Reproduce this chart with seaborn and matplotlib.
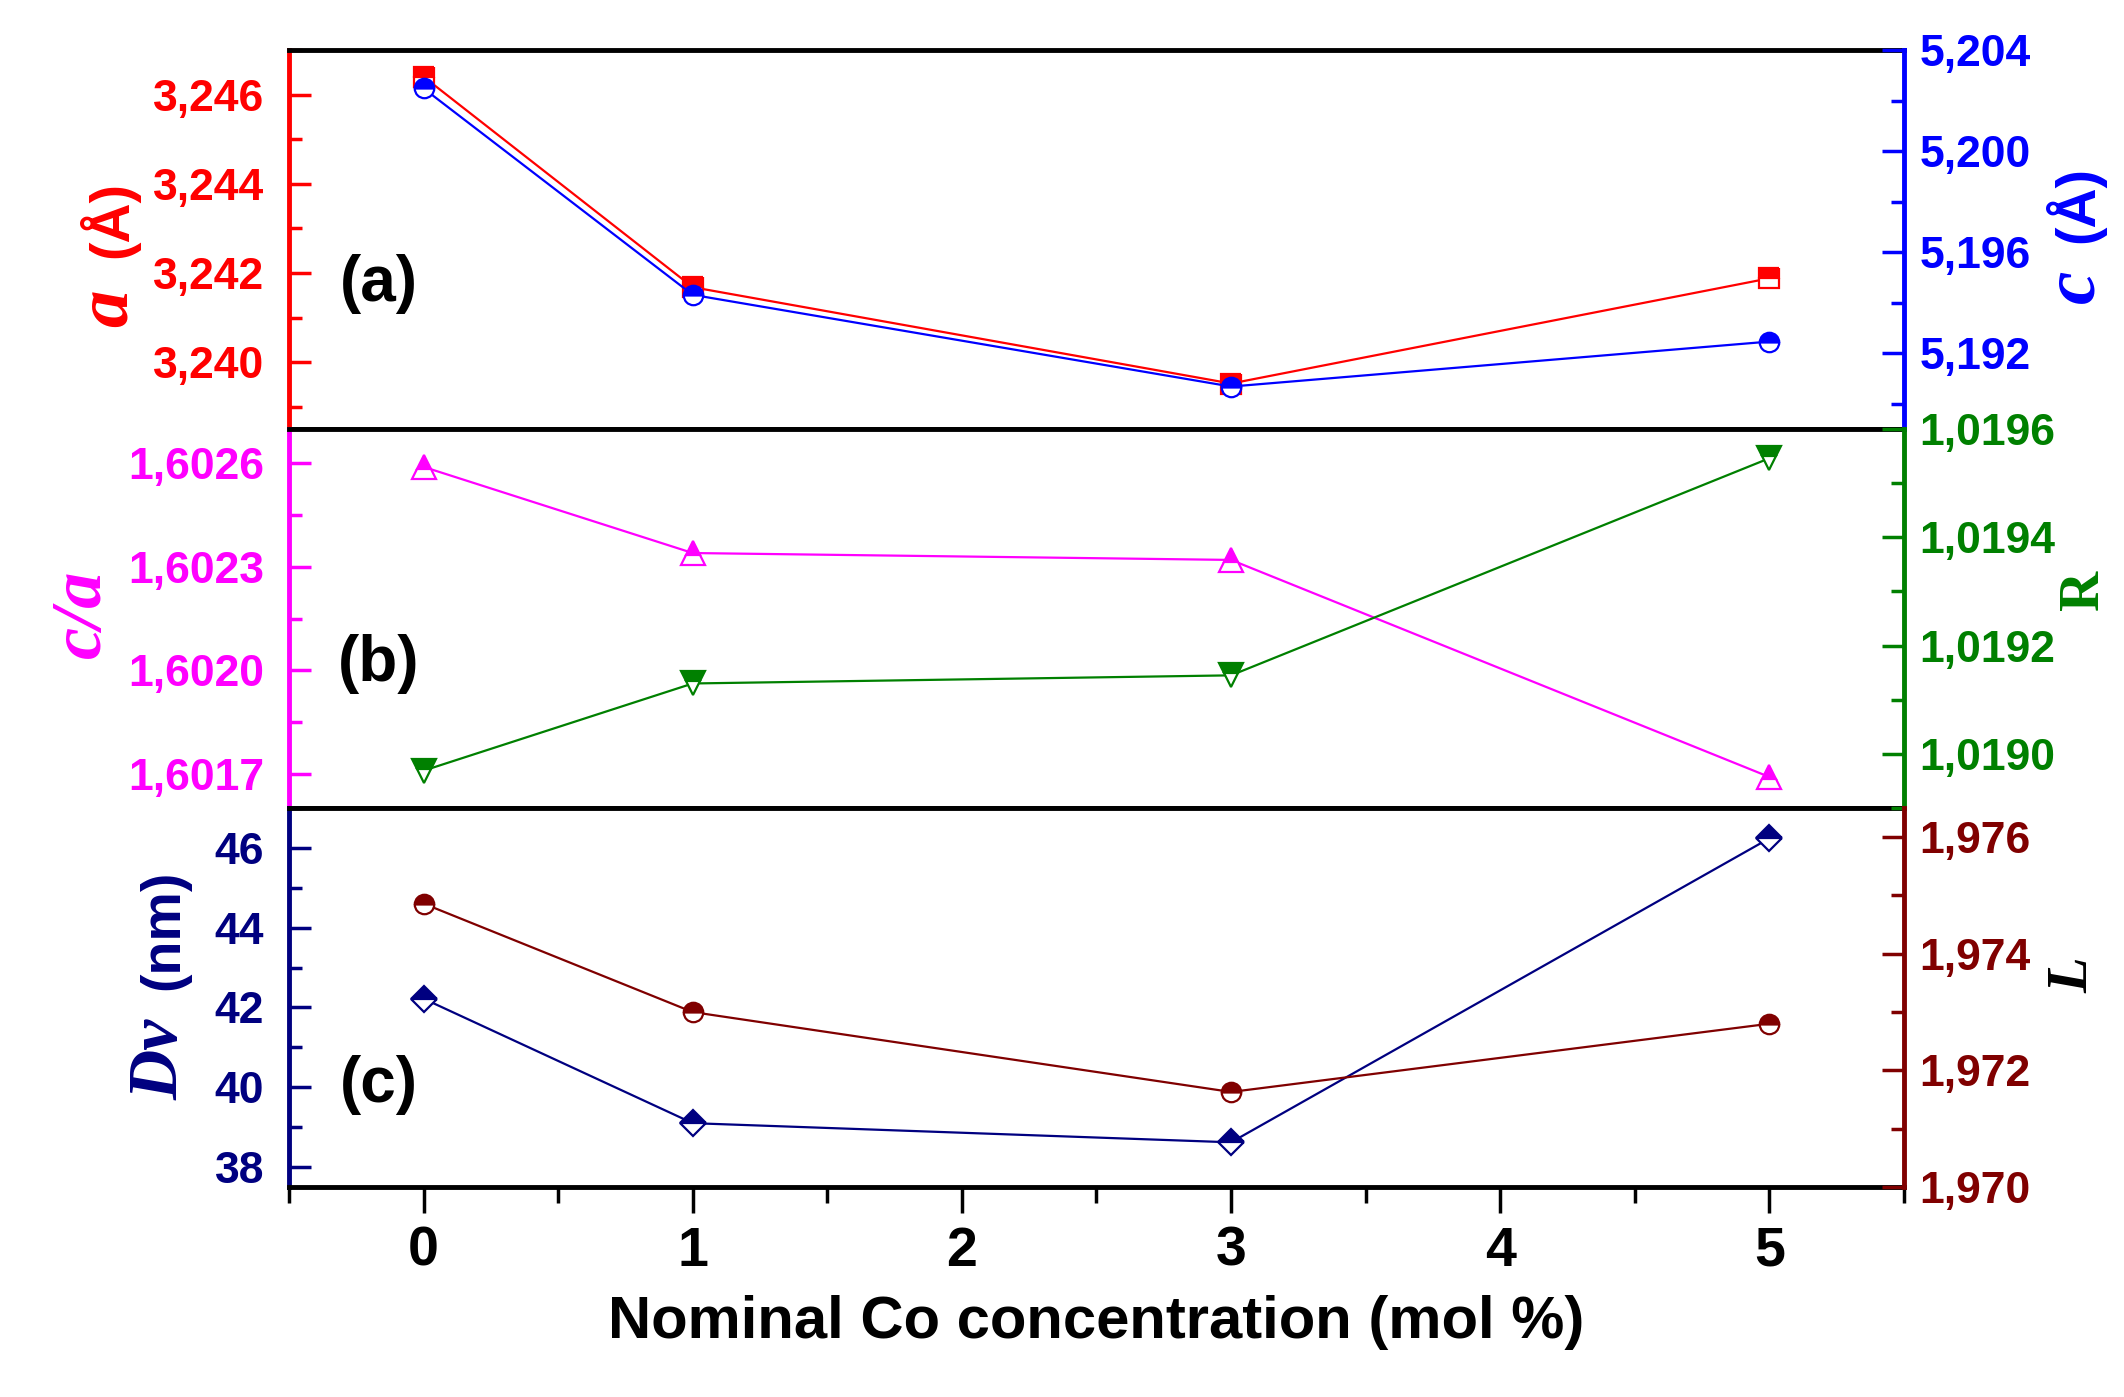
import matplotlib
matplotlib.use("Agg")
import matplotlib.pyplot as plt
import seaborn as sns
from matplotlib.ticker import FixedLocator, AutoMinorLocator, MultipleLocator

# ---- data ----
conc = [0, 1, 3, 5]
a_lat = [3.2464, 3.24168, 3.23952, 3.24188]
c_lat = [5.20248, 5.19431, 5.19068, 5.19246]
c_over_a = [1.60259, 1.60234, 1.60232, 1.60169]
r_val = [1.018969, 1.019130, 1.019145, 1.019546]
dv = [42.22, 39.10, 38.62, 46.24]
l_val = [1.97486, 1.97300, 1.97163, 1.97280]

# tick values and the comma-decimal labels
a_ticks = [3.240, 3.242, 3.244, 3.246]
a_labels = ["3,240", "3,242", "3,244", "3,246"]
c_ticks = [5.192, 5.196, 5.200, 5.204]
c_labels = ["5,192", "5,196", "5,200", "5,204"]
ca_ticks = [1.6017, 1.6020, 1.6023, 1.6026]
ca_labels = ["1,6017", "1,6020", "1,6023", "1,6026"]
r_ticks = [1.0190, 1.0192, 1.0194, 1.0196]
r_labels = ["1,0190", "1,0192", "1,0194", "1,0196"]
dv_ticks = [38, 40, 42, 44, 46]
dv_labels = ["38", "40", "42", "44", "46"]
l_ticks = [1.970, 1.972, 1.974, 1.976]
l_labels = ["1,970", "1,972", "1,974", "1,976"]
x_ticks = [0, 1, 2, 3, 4, 5]

RED, BLUE, MAG, GREEN, NAVY, WINE = "#FF0000", "#0000FF", "#FF00FF", "#008000", "#000080", "#800000"

sns.set_style("ticks")
plt.rcParams["font.family"] = ["Liberation Sans", "DejaVu Sans"]
plt.rcParams["font.weight"] = "bold"
plt.rcParams["text.color"] = "black"
plt.rcParams["axes.labelcolor"] = "black"
plt.rcParams["xtick.color"] = "black"
plt.rcParams["xtick.labelcolor"] = "black"

W, H = 2124, 1397
fig = plt.figure(figsize=(W / 100, H / 100), dpi=100)
axes = fig.subplots(3, 1, sharex=True)
fig.subplots_adjust(left=289 / W, right=1904 / W, top=1 - 50 / H, bottom=1 - 1187 / H, hspace=0)


def draw(ax, y, color, marker, ms):
    sns.lineplot(x=conc, y=y, ax=ax, color=color, marker=marker, markersize=ms,
                 fillstyle="top", markerfacecoloralt="white", markeredgecolor=color,
                 markeredgewidth=1.6, linewidth=1.6, clip_on=False)


def style_y(ax, side, color, ticks, labels, lim):
    ax.set_ylim(*lim)
    ax.yaxis.set_major_locator(FixedLocator(ticks))
    ax.set_yticklabels(labels)
    ax.yaxis.set_minor_locator(AutoMinorLocator(2))
    pad = 18 if side == "left" else 11
    ax.tick_params(axis="y", which="major", direction="in", length=16, width=2.5,
                   color=color, labelcolor=color, labelsize=32, pad=pad)
    ax.tick_params(axis="y", which="minor", direction="in", length=9.5, width=2.5, color=color)
    ax.set_ylabel("")


panels = [
    (a_lat, RED, "s", 14, a_ticks, a_labels, (3.2385, 3.2470),
     c_lat, BLUE, "o", 14, c_ticks, c_labels, (5.189, 5.204)),
    (c_over_a, MAG, "^", 17, ca_ticks, ca_labels, (1.6016, 1.6027),
     r_val, GREEN, "v", 17, r_ticks, r_labels, (1.0189, 1.0196)),
    (dv, NAVY, "D", 13, dv_ticks, dv_labels, (37.5, 47.0),
     l_val, WINE, "o", 14, l_ticks, l_labels, (1.970, 1.9765)),
]

for ax, p in zip(axes, panels):
    (yl, cl, ml, sl, tl, ll, liml, yr, cr, mr, sr, tr, lr, limr) = p
    draw(ax, yl, cl, ml, sl)
    ax2 = ax.twinx()
    draw(ax2, yr, cr, mr, sr)
    style_y(ax, "left", cl, tl, ll, liml)
    style_y(ax2, "right", cr, tr, lr, limr)
    for s in ax.spines.values():
        s.set_linewidth(3.5)
        s.set_color("black")
    ax.spines["left"].set_color(cl)
    ax.spines["right"].set_visible(False)
    for k in ("left", "top", "bottom"):
        ax2.spines[k].set_visible(False)
    ax2.spines["right"].set_color(cr)
    ax2.spines["right"].set_linewidth(3.5)
    ax.tick_params(axis="x", which="both", bottom=False, top=False, labelbottom=False)

ax3 = axes[2]
ax3.set_xlim(-0.5, 5.5)
ax3.xaxis.set_major_locator(FixedLocator(x_ticks))
ax3.xaxis.set_minor_locator(MultipleLocator(0.5))
ax3.tick_params(axis="x", which="major", bottom=True, labelbottom=True, direction="out",
                length=19, width=2.5, color="black", labelcolor="black", labelsize=40, pad=9)
ax3.tick_params(axis="x", which="minor", bottom=True, direction="out", length=11.5, width=2.5,
                color="black")
ax3.set_xlabel("Nominal Co concentration (mol %)", fontsize=43, fontweight="bold",
               color="black", labelpad=12)

# panel tags
for ax, tag, yy in zip(axes, ["(a)", "(b)", "(c)"], [0.383, 0.38, 0.27]):
    ax.text(-0.167, yy, tag, transform=ax.get_xaxis_transform(), ha="center", va="center",
            fontsize=46, fontweight="bold", color="black")


# rotated axis titles, mixing italic serif symbols with sans units
def vtext(x_px, y_px, s, color, size, serif=False, italic=False):
    fig.text(x_px / W, 1 - y_px / H, s, rotation=90, rotation_mode="anchor",
             ha="left", va="baseline", color=color, fontsize=size, fontweight="bold",
             family=["Liberation Serif"] if serif else ["Liberation Sans", "DejaVu Sans"],
             style="italic" if italic else "normal")


vtext(127, 327, "a", RED, 54, serif=True, italic=True)
vtext(127, 258, "(Å)", RED, 40)
vtext(100, 658, "c/a", MAG, 52, serif=True, italic=True)
vtext(178, 1100, "Dv", NAVY, 50, serif=True, italic=True)
vtext(178, 990, "(nm)", NAVY, 40)
vtext(2093, 303, "c", BLUE, 54, serif=True, italic=True)
vtext(2093, 243, "(Å)", BLUE, 40)
vtext(2098, 610, "R", GREEN, 40, serif=True)
vtext(2087, 993, "L", "black", 42, serif=True, italic=True)

fig.savefig("out.png", dpi=100, facecolor="white")
